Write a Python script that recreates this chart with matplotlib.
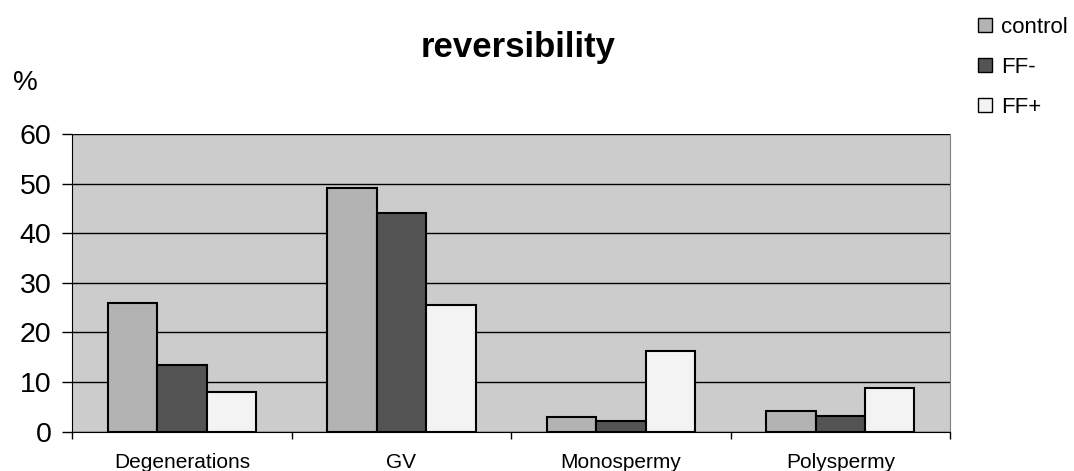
import numpy as np
import matplotlib.pyplot as plt
from matplotlib.lines import Line2D

plt.rcParams['font.family'] = ['Liberation Sans', 'DejaVu Sans']

categories = ['Degenerations', 'GV', 'Monospermy', 'Polyspermy']
series = ['control', 'FF-', 'FF+']
control = [25.9, 49.2, 2.9, 4.2]
ff_minus = [13.4, 44.0, 2.1, 3.2]
ff_plus = [8.1, 25.5, 16.2, 8.9]
colors = ['#b3b3b3', '#545454', '#f3f3f3']

fig = plt.figure(figsize=(10.74, 4.71), dpi=100)
ax = fig.add_axes([0.0673, 0.0834, 0.8173, 0.6321])
ax.set_facecolor('#cccccc')

x = np.arange(len(categories))
w = 0.225
for i, (vals, c) in enumerate(zip([control, ff_minus, ff_plus], colors)):
    ax.bar(x + (i - 1) * w, vals, w, color=c, edgecolor='black', linewidth=1.5, zorder=3)

ax.set_xlim(-0.5, len(categories) - 0.5)
ax.set_ylim(0, 60)
ax.set_yticks(range(0, 61, 10))
ax.tick_params(axis='y', labelsize=20.5, length=7, width=1, pad=8)
ax.yaxis.grid(True, color='black', linewidth=1, zorder=1)

# category labels sit between the boundary ticks
ax.set_xticks(np.arange(-0.5, len(categories), 1.0))
ax.set_xticklabels([])
ax.set_xticks(x, minor=True)
ax.set_xticklabels(categories, minor=True, fontsize=15)
ax.tick_params(axis='x', which='minor', length=0, pad=15)
ax.tick_params(axis='x', which='major', length=5, width=1, direction='out')

ax.spines['top'].set_visible(False)
ax.spines['right'].set_color('#808080')
ax.spines['left'].set_color('black')
ax.spines['bottom'].set_color('black')

fig.text(0.482, 0.878, 'reversibility', ha='center', va='baseline',
         fontsize=25, fontweight='bold')
fig.text(0.012, 0.824, '%', ha='left', va='center', fontsize=20)

handles = [Line2D([], [], marker='s', linestyle='none', markersize=10,
                  markerfacecolor=c, markeredgecolor='black', markeredgewidth=1)
           for c in colors]
fig.legend(handles, series, loc='upper left', bbox_to_anchor=(0.909, 0.964),
           frameon=False, fontsize=16, handletextpad=0.35, labelspacing=0.85,
           handlelength=0.75, borderpad=0, borderaxespad=0)

fig.savefig('out.png', dpi=100)
